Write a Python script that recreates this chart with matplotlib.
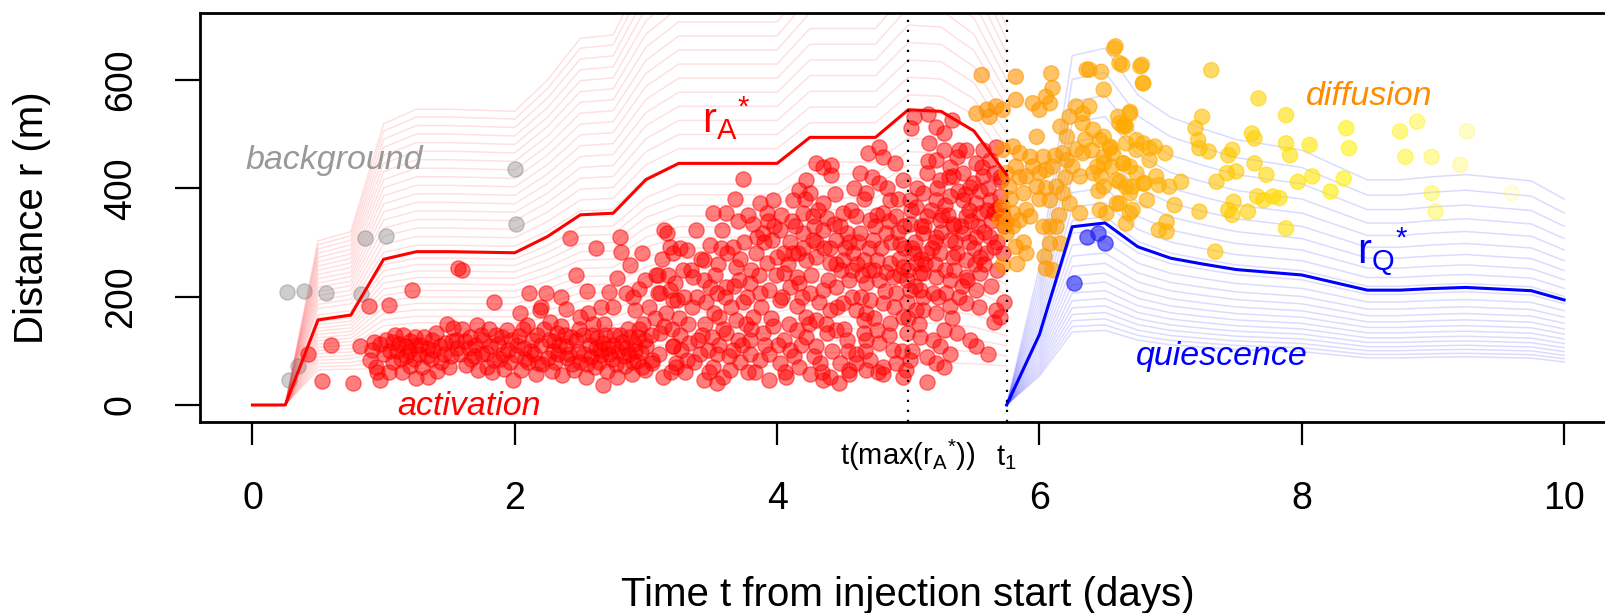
import numpy as np
import matplotlib
matplotlib.use('Agg')
import matplotlib.pyplot as plt

plt.rcParams['font.family'] = ['Liberation Sans', 'DejaVu Sans']
plt.rcParams['mathtext.fontset'] = 'custom'
plt.rcParams['mathtext.rm'] = 'Liberation Sans'
plt.rcParams['mathtext.it'] = 'Liberation Sans:italic'
plt.rcParams['mathtext.default'] = 'regular'

# activation front r_A* (0.25 day grid) and the faint envelope around it
t_act = [0, 0.25, 0.5, 0.75, 1.0, 1.25, 1.5, 1.75, 2.0, 2.25, 2.5, 2.75,
         3.0, 3.25, 3.5, 3.75, 4.0, 4.25, 4.5, 4.75, 5.0, 5.25, 5.5, 5.75]
rA = [0, 0, 157, 166, 269, 283, 283, 282, 281, 311, 351, 354,
      416, 446, 446, 446, 446, 494, 494, 494, 545, 542, 506, 425]
rA_lo = [0, 0, 65, 66, 67, 68, 68, 68, 68, 69, 70, 70,
         72, 73, 73, 73, 73, 75, 75, 75, 78, 78, 76, 72]
rA_hi = [0, 0, 303, 320, 519, 546, 546, 544, 542, 600, 677, 683,
         803, 861, 861, 861, 861, 953, 953, 953, 1052, 1046, 980, 820]
f_act = [0.0, 0.025, 0.05, 0.075, 0.1, 0.125, 0.15, 0.175, 0.2, 0.225, 0.25,
         0.275, 0.3, 0.325, 0.35, 0.375, 0.4, 0.425, 0.475, 0.508, 0.541,
         0.574, 0.607, 0.64, 0.673, 0.706, 0.739, 0.772, 0.805, 0.838, 0.871,
         0.904, 0.937, 0.97, 1.0]

# quiescence front r_Q* and its faint envelope factors
t_qui = [5.75, 6.0, 6.25, 6.5, 6.75, 7.0, 7.25, 7.5, 7.75, 8.0, 8.25, 8.5,
         8.75, 9.0, 9.25, 9.5, 9.75, 10.0]
rQ = [0, 130, 329, 336, 292, 271, 260, 250, 245, 240, 226, 212,
      212, 215, 217, 214, 211, 194]
k_qui = [0.41, 0.44, 0.473, 0.508, 0.545, 0.585, 0.628, 0.675, 0.724, 0.778,
         0.835, 0.897, 0.963, 1.034, 1.11, 1.192, 1.28, 1.374, 1.476, 1.584,
         1.701, 1.827, 1.96]

t_max = 5.0
t_1 = 5.75

bg_pts = [(0.26, 209), (0.39, 211), (0.56, 206), (0.83, 205), (0.86, 308),
          (1.02, 312), (2.00, 435), (2.01, 335), (0.28, 47), (0.35, 72)]

act_pts = [
    (0.42, 95), (0.53, 45), (0.60, 111), (0.77, 41), (0.82, 108), (0.89, 182),
    (1.04, 185), (1.22, 212), (1.57, 252), (1.60, 250), (1.84, 191),
    (0.93, 117), (0.97, 113), (1.02, 120), (1.07, 117), (1.12, 113), (1.17, 108),
    (1.25, 110), (1.34, 105), (0.90, 83), (0.945, 70), (0.97, 46), (1.07, 80),
    (1.17, 90), (1.20, 72), (1.25, 50), (1.27, 95), (1.34, 52), (1.38, 101),
    (1.43, 108), (1.48, 150), (1.53, 142), (1.55, 120), (1.66, 126), (1.71, 148),
    (1.76, 120), (1.81, 108), (1.84, 83), (1.90, 126), (1.94, 138), (1.99, 46),
    (2.04, 169), (2.09, 148), (2.11, 206), (2.19, 175), (2.18, 77), (2.24, 206),
    (2.27, 154), (2.32, 132), (2.39, 178), (2.39, 108), (2.42, 308), (2.47, 240),
    (2.50, 163), (2.56, 169), (2.60, 150), (2.62, 289), (2.65, 101), (2.67, 37),
    (2.72, 209), (2.75, 181), (2.80, 311), (2.81, 283), (2.85, 206), (2.88, 258),
    (2.90, 200), (2.95, 215), (2.97, 280), (2.98, 150), (3.00, 108), (3.05, 83),
    (3.09, 240), (3.11, 206), (3.16, 317), (3.18, 292), (3.21, 193), (3.21, 108),
    (3.23, 77),
    (0.91, 101), (0.95, 60), (1.00, 95), (1.04, 60), (1.10, 99), (1.14, 60),
    (1.15, 130), (1.20, 118), (1.23, 84), (1.29, 70), (1.31, 126), (1.36, 84),
    (1.40, 132), (1.41, 62), (1.46, 95), (1.50, 70), (1.52, 118), (1.58, 95),
    (1.60, 140), (1.63, 73), (1.65, 105), (1.69, 90), (1.72, 64), (1.74, 130),
    (1.78, 96), (1.80, 140), (1.83, 60), (1.87, 112), (1.89, 85), (1.92, 66),
    (1.95, 101), (1.97, 120), (2.01, 92), (2.03, 127), (2.05, 64), (2.07, 105),
    (2.10, 80), (2.13, 120), (2.15, 95), (2.16, 58), (2.20, 110), (2.22, 140),
    (2.25, 86), (2.28, 63), (2.30, 118), (2.33, 95), (2.35, 146), (2.36, 55),
    (2.40, 86), (2.43, 126), (2.45, 64), (2.48, 100), (2.50, 80), (2.52, 130),
    (2.54, 52), (2.57, 110), (2.58, 88), (2.61, 70), (2.63, 124), (2.66, 92),
    (2.68, 150), (2.70, 62), (2.71, 106), (2.74, 85), (2.76, 130), (2.78, 52),
    (2.79, 100), (2.82, 116), (2.84, 72), (2.86, 140), (2.87, 95), (2.89, 58),
    (2.91, 112), (2.93, 82), (2.94, 125), (2.96, 98), (2.99, 65), (2.99, 120),
    (3.08, 240), (3.14, 323), (3.21, 280), (3.26, 289), (3.31, 286), (3.38, 323),
    (3.44, 268), (3.49, 295), (3.09, 206), (3.18, 212), (3.24, 194), (3.28, 249),
    (3.36, 237), (3.44, 231), (3.49, 218), (3.54, 206), (3.11, 132), (3.14, 145),
    (3.21, 108), (3.27, 101), (3.33, 114), (3.41, 95), (3.47, 101), (3.54, 95),
    (3.05, 77), (3.13, 52), (3.23, 71), (3.31, 83), (3.44, 46), (3.54, 40),
    (3.51, 354), (3.61, 354), (3.74, 418), (3.58, 323), (3.66, 292), (3.69, 255),
    (3.61, 218), (3.71, 231), (3.56, 163), (3.61, 132), (3.69, 157), (3.66, 101),
    (3.64, 65), (3.59, 52), (3.51, 71),
    (3.15, 170), (3.25, 160), (3.35, 180), (3.45, 150), (3.40, 120), (3.30, 60),
    (3.20, 140), (3.50, 125),
    (3.87, 372), (3.92, 354), (3.97, 378), (3.82, 335), (3.89, 317), (3.96, 305),
    (4.02, 323), (3.84, 280), (3.92, 262), (4.00, 274), (4.05, 243), (3.79, 225),
    (3.87, 206), (3.94, 212), (4.02, 194), (4.10, 218), (4.15, 237), (4.17, 397),
    (4.25, 391), (4.30, 446), (4.35, 440), (4.41, 443), (4.41, 425), (4.12, 378),
    (4.20, 354), (4.27, 348), (4.35, 372), (4.43, 335), (4.50, 354), (4.20, 317),
    (4.27, 305), (4.35, 323), (4.45, 305), (4.53, 317), (4.12, 280), (4.22, 268),
    (4.30, 274), (4.40, 262), (4.50, 268), (4.58, 280), (4.17, 225), (4.25, 206),
    (4.35, 212), (4.45, 218), (4.55, 231), (4.15, 182), (4.22, 163), (4.30, 157),
    (4.40, 175), (4.50, 188), (4.60, 175), (3.82, 163), (3.89, 132), (3.97, 145),
    (4.05, 120), (3.79, 95), (3.87, 83), (3.94, 95), (4.02, 77), (4.10, 101),
    (4.15, 138), (4.22, 126), (4.30, 108), (4.38, 132), (4.45, 138), (4.53, 120),
    (4.17, 71), (4.25, 58), (4.33, 77), (4.40, 52), (4.48, 77), (4.55, 65),
    (3.94, 46), (4.07, 52), (4.35, 46), (4.22, 415), (3.79, 120), (4.60, 95),
    (4.66, 132), (4.68, 169),
    (3.55, 260), (3.60, 200), (3.65, 180), (3.70, 120), (3.72, 80), (3.75, 300),
    (3.76, 150), (3.78, 60), (3.68, 380), (3.57, 290), (3.80, 250), (3.74, 190),
    (4.69, 465), (4.78, 477), (4.81, 458), (4.90, 446), (4.63, 428), (4.68, 391),
    (4.78, 409), (4.86, 378), (4.96, 415), (5.01, 378), (4.60, 348), (4.71, 341),
    (4.81, 354), (4.91, 348), (5.01, 335), (5.06, 366), (4.63, 317), (4.73, 305),
    (4.83, 317), (4.94, 298), (5.04, 280), (4.66, 268), (4.76, 268), (4.86, 262),
    (4.96, 255), (5.06, 262), (4.68, 225), (4.78, 231), (4.88, 237), (4.99, 231),
    (5.09, 243), (4.71, 194), (4.81, 188), (4.91, 206), (5.01, 212), (5.11, 200),
    (4.66, 157), (4.76, 138), (4.86, 151), (4.96, 163), (5.06, 175), (4.68, 120),
    (4.78, 114), (4.88, 101), (4.99, 132), (5.09, 126), (4.60, 77), (4.71, 83),
    (4.81, 71), (4.91, 77), (5.01, 83), (4.55, 58), (4.68, 65), (4.81, 58),
    (4.96, 52), (5.14, 43), (5.04, 532), (5.15, 538), (5.02, 511), (5.21, 514),
    (5.27, 502), (5.33, 526), (5.16, 483), (5.27, 471), (5.37, 458), (5.44, 471),
    (5.21, 452), (5.32, 440), (5.42, 428), (5.52, 446), (5.57, 471), (5.62, 452),
    (5.67, 477), (5.14, 428), (5.24, 415), (5.34, 422), (5.47, 403), (5.57, 422),
    (5.65, 428), (5.71, 415), (5.11, 391), (5.21, 378), (5.32, 385), (5.42, 378),
    (5.52, 372), (5.62, 378), (5.70, 385), (5.14, 348), (5.24, 341), (5.34, 335),
    (5.44, 348), (5.55, 354), (5.65, 354), (5.72, 348), (5.11, 317), (5.21, 311),
    (5.32, 305), (5.42, 317), (5.52, 311), (5.62, 311), (5.14, 280), (5.24, 280),
    (5.34, 274), (5.44, 268), (5.55, 274), (5.65, 292), (5.11, 243), (5.21, 237),
    (5.32, 231), (5.44, 237), (5.55, 243), (5.09, 212), (5.19, 206), (5.29, 206),
    (5.39, 200), (5.52, 212), (5.11, 175), (5.21, 169), (5.32, 182), (5.44, 188),
    (5.67, 175), (5.70, 163), (5.65, 154), (5.27, 138), (5.37, 132), (5.24, 108),
    (5.32, 95), (5.52, 108), (5.61, 95), (5.27, 71), (5.21, 77), (5.14, 89),
    (4.62, 300), (4.70, 290), (4.75, 330), (4.85, 340), (4.92, 320), (4.97, 290),
    (5.05, 300), (5.12, 330), (5.18, 290), (5.25, 320), (5.30, 350), (5.36, 300),
    (5.40, 330), (5.48, 340), (5.50, 290), (5.58, 320), (5.63, 340), (5.68, 300),
    (5.73, 330), (5.28, 370), (5.38, 395), (5.46, 360), (5.55, 395), (5.60, 360),
    (5.69, 365), (4.57, 250), (4.65, 240), (4.74, 250), (4.83, 245), (4.93, 270),
    (5.00, 250), (5.10, 270), (5.20, 260), (5.35, 250), (5.45, 230), (5.58, 260),
    (4.20, 290), (4.30, 300), (4.40, 290), (4.05, 280), (4.10, 300), (3.98, 330),
    (4.45, 260), (4.55, 300), (4.48, 330), (4.38, 345), (4.28, 330), (4.14, 330),
    (4.03, 350), (3.90, 300), (3.85, 310), (5.00, 160), (5.03, 100), (4.98, 65),
    (1.05, 100), (1.09, 130), (1.13, 85), (1.19, 100), (1.24, 125), (1.28, 110),
    (1.33, 90), (1.37, 120), (1.44, 80), (1.47, 115), (1.51, 90), (1.56, 105),
    (1.62, 118), (1.67, 85), (1.70, 110), (1.75, 95), (1.79, 70), (1.86, 130),
    (1.91, 95), (1.96, 80), (2.02, 110), (2.06, 140), (2.08, 85), (2.12, 100),
    (2.17, 130), (2.21, 75), (2.26, 120), (2.29, 100), (2.31, 80), (2.34, 110),
    (2.38, 130), (2.41, 95), (2.44, 75), (2.47, 120), (2.49, 140), (2.53, 95),
    (2.55, 75), (2.59, 130), (2.62, 105), (2.64, 80), (2.67, 115), (2.69, 130),
    (2.72, 95), (2.75, 110), (2.77, 75), (2.80, 130), (2.83, 90), (2.85, 105),
    (2.88, 125), (2.90, 80), (2.92, 100), (2.95, 140), (2.97, 70),
    (2.20, 180), (2.35, 200), (2.55, 210), (2.66, 180), (2.78, 235), (2.92, 175),
    (2.99, 230),
    (3.02, 180), (3.04, 130), (3.07, 160), (3.10, 95), (3.12, 270), (3.17, 240),
    (3.19, 60), (3.22, 225), (3.26, 130), (3.29, 200), (3.32, 150), (3.34, 250),
    (3.37, 80), (3.39, 200), (3.42, 270), (3.43, 130), (3.46, 190), (3.48, 60),
    (3.52, 170), (3.53, 240), (3.56, 110), (3.59, 140), (3.62, 280), (3.63, 90),
    (3.67, 220), (3.70, 340), (3.72, 270), (3.73, 110), (3.77, 200), (3.78, 350),
    (3.80, 140),
    (3.83, 60), (3.86, 240), (3.88, 180), (3.91, 110), (3.93, 340), (3.95, 160),
    (3.99, 240), (4.01, 110), (4.04, 200), (4.06, 60), (4.08, 260), (4.09, 150),
    (4.11, 340), (4.13, 90), (4.16, 280), (4.18, 110), (4.19, 200), (4.21, 380),
    (4.24, 150), (4.26, 240), (4.28, 90), (4.31, 360), (4.32, 190), (4.34, 60),
    (4.36, 290), (4.37, 150), (4.39, 230), (4.42, 100), (4.44, 390), (4.46, 180),
    (4.47, 40), (4.49, 250), (4.51, 140), (4.52, 290), (4.54, 100), (4.56, 360),
    (4.57, 200), (4.59, 400),
    (4.61, 260), (4.64, 200), (4.66, 380), (4.67, 100), (4.70, 250), (4.72, 420),
    (4.74, 160), (4.76, 350), (4.77, 60), (4.79, 290), (4.82, 210), (4.84, 400),
    (4.85, 130), (4.87, 300), (4.89, 180), (4.92, 380), (4.94, 240), (4.95, 100),
    (4.97, 330), (4.99, 190), (5.02, 360), (5.03, 290), (5.05, 220), (5.07, 400),
    (5.08, 150), (5.10, 330), (5.13, 260), (5.15, 450), (5.17, 360), (5.19, 120),
    (5.20, 300), (5.22, 400), (5.23, 200), (5.26, 350), (5.28, 250), (5.31, 420),
    (5.33, 160), (5.35, 330), (5.37, 280), (5.39, 470), (5.41, 220), (5.43, 390),
    (5.46, 300), (5.47, 120), (5.49, 410), (5.51, 260), (5.53, 330), (5.54, 180),
    (5.56, 440), (5.59, 280), (5.61, 400), (5.63, 220), (5.66, 360), (5.68, 250),
    (5.70, 420), (5.72, 280), (5.73, 190),
]

dif_pts = [
    (5.56, 609), (5.82, 606), (6.09, 612), (6.10, 585), (6.36, 619), (6.38, 619),
    (6.47, 615), (6.49, 582), (6.57, 658), (6.61, 631), (6.77, 625), (6.79, 594),
    (5.82, 563), (5.52, 538), (5.60, 545), (5.67, 551), (5.62, 532), (5.72, 545),
    (5.95, 557), (6.00, 545), (6.05, 569), (6.08, 557), (6.28, 551), (6.33, 538),
    (6.38, 551), (6.33, 520), (6.23, 532), (6.16, 514), (6.21, 495), (6.41, 508),
    (6.46, 489), (6.54, 477), (6.61, 520), (6.66, 514), (6.69, 538), (5.72, 471),
    (5.80, 477), (5.85, 465), (5.93, 458), (5.98, 495), (6.03, 458), (6.10, 440),
    (6.18, 465), (6.21, 452), (5.75, 428), (5.82, 440), (5.90, 422), (6.00, 428),
    (6.05, 434), (6.13, 403), (6.28, 471), (6.33, 465), (6.44, 440), (6.49, 458),
    (6.56, 465), (6.64, 446), (6.74, 471), (5.77, 403), (5.88, 391), (5.98, 403),
    (6.08, 378), (6.18, 391), (6.23, 372), (6.31, 422), (6.41, 428), (6.49, 403),
    (6.59, 415), (6.66, 403), (6.74, 428), (6.79, 409), (5.72, 366), (5.80, 354),
    (5.85, 341), (5.93, 348), (6.03, 329), (6.08, 329), (6.13, 329), (6.31, 354),
    (6.46, 360), (6.59, 372), (6.69, 354), (5.75, 317), (5.82, 292), (5.90, 280),
    (6.08, 298), (6.16, 298), (5.72, 258), (6.04, 274), (6.05, 252), (6.10, 249),
    (5.70, 341), (5.75, 335),
    (5.78, 380), (5.85, 420), (5.90, 360), (5.95, 440), (6.00, 380), (6.05, 400),
    (6.12, 460), (6.20, 420), (6.25, 440), (6.35, 490), (6.40, 470), (6.45, 395),
    (6.55, 440), (5.80, 330), (5.88, 300), (5.83, 260), (6.15, 350),
    (6.58, 662), (6.63, 628), (6.78, 628), (6.79, 594), (6.60, 532), (6.65, 517),
    (6.69, 541), (6.64, 514), (6.49, 495), (6.54, 474), (6.66, 483), (6.74, 489),
    (6.79, 483), (6.84, 474), (6.88, 477), (6.96, 465), (6.84, 452), (6.49, 446),
    (6.64, 446), (6.69, 440), (6.47, 422), (6.61, 412), (6.71, 403), (6.80, 409),
    (6.89, 422), (6.91, 406), (6.99, 403), (7.08, 412), (6.69, 391), (6.61, 372),
    (6.71, 360), (6.82, 378), (7.03, 369), (6.51, 354), (6.66, 335), (6.97, 338),
    (6.91, 323), (6.97, 320), (7.31, 618), (7.24, 532), (7.19, 511), (7.21, 489),
    (7.22, 474), (7.29, 468), (7.47, 471), (7.44, 461), (7.50, 431), (7.43, 428),
    (7.35, 412), (7.64, 446), (7.73, 425), (7.62, 501), (7.64, 492), (7.67, 566),
    (7.88, 535), (7.88, 483), (7.91, 461), (8.06, 480), (8.34, 511), (8.36, 474),
    (8.32, 418), (7.97, 412), (8.08, 422), (8.22, 394), (7.66, 385), (7.71, 378),
    (7.78, 385), (7.83, 382), (7.48, 375), (7.44, 360), (7.47, 351), (7.59, 357),
    (7.22, 357), (7.88, 326), (7.34, 283), (8.75, 505), (8.88, 523), (8.79, 458),
    (8.99, 458), (9.26, 505), (9.21, 443), (8.99, 391), (9.02, 357), (9.60, 391),
]

qui_pts = [(6.36, 311), (6.45, 317), (6.50, 299), (6.26, 225)]

fig = plt.figure(figsize=(16.05, 6.13), dpi=100)
ax = fig.add_axes([0.1246, 0.3121, 0.8826, 0.6662])
ax.set_xlim(-0.4, 10.4)
ax.set_ylim(-30.8, 723)

# faint envelopes
lo = np.array(rA_lo, float)
hi = np.array(rA_hi, float)
for f in f_act:
    ax.plot(t_act, lo + f * (hi - lo), color=(1, 0, 0, 0.12), lw=1.1, zorder=1)
for k in k_qui:
    ax.plot(t_qui, k * np.array(rQ, float), color=(0, 0, 1, 0.14), lw=1.1, zorder=1)

# points
bt, br = np.array(bg_pts).T
ax.scatter(bt, br, s=120, facecolor=(0.45, 0.45, 0.45, 0.35),
           edgecolor=(0.45, 0.45, 0.45, 0.35), lw=1, zorder=2)
at, ar = np.array(act_pts).T
ax.scatter(at, ar, s=120, facecolor=(1, 0, 0, 0.5),
           edgecolor=(1, 0, 0, 0.5), lw=1, zorder=2)
dt, dr = np.array(dif_pts).T
g = np.interp(dt, [5.5, 7.0, 8.3], [0.55, 0.7, 0.95])
alpha = np.interp(dt, [5.5, 8.3, 8.8, 9.1, 9.3, 9.7], [0.6, 0.6, 0.45, 0.3, 0.2, 0.1])
cols = np.column_stack([np.ones_like(dt), g, np.zeros_like(dt), alpha])
ax.scatter(dt, dr, s=120, facecolor=cols, edgecolor=cols, lw=1, zorder=3)
qt, qr = np.array(qui_pts).T
ax.scatter(qt, qr, s=120, facecolor=(0.1, 0.1, 0.95, 0.6),
           edgecolor=(0.1, 0.1, 0.95, 0.6), lw=1, zorder=3)

# fronts
ax.plot(t_act, rA, color='red', lw=2.2, zorder=4)
ax.plot(t_qui, rQ, color='blue', lw=2.2, zorder=4)

ax.axvline(t_max, color='black', ls=(0, (1, 3.5)), lw=1.6, zorder=5)
ax.axvline(t_1, color='black', ls=(0, (1, 3.5)), lw=1.6, zorder=5)

# labels in the plot
ax.text(0.62, 452, 'background', color='#999999', style='italic',
        fontsize=24.5, ha='center', va='center')
ax.text(1.65, -18.5, 'activation', color='red', style='italic',
        fontsize=24.5, ha='center', va='baseline')
ax.text(8.51, 554, 'diffusion', color='darkorange', style='italic',
        fontsize=24.5, ha='center', va='baseline')
ax.text(7.39, 74, 'quiescence', color='blue', style='italic',
        fontsize=24.5, ha='center', va='baseline')
ax.text(3.43, 502, r'${r_A}^{*}$', color='red', fontsize=30, ha='left', va='baseline')
ax.text(8.42, 262, r'${r_Q}^{*}$', color='blue', fontsize=30, ha='left', va='baseline')

trans = ax.get_xaxis_transform()
ax.text(t_max, -0.106, r'$t(max({r_A}^{*}))$', transform=trans, ha='center',
        va='baseline', fontsize=21, clip_on=False)
ax.text(t_1, -0.106, r'$t_1$', transform=trans, ha='center',
        va='baseline', fontsize=21, clip_on=False)

# axes styling
for sp in ax.spines.values():
    sp.set_linewidth(2)
ax.set_xticks([0, 2, 4, 6, 8, 10])
ax.set_yticks([0, 200, 400, 600])
ax.tick_params(axis='x', length=16.5, width=1.6, pad=26, labelsize=27)
ax.tick_params(axis='y', length=18, width=1.6, pad=26, labelsize=27)
for lab in ax.get_yticklabels():
    lab.set_rotation(90)
    lab.set_va('center')

fig.text(908 / 1605, 1 - 595 / 613, 'Time t from injection start (days)',
         ha='center', va='center', fontsize=29)
fig.text(32 / 1605, 1 - 217.5 / 613, 'Distance r (m)', rotation=90,
         ha='center', va='center', fontsize=29)

fig.savefig('out.png', dpi=100)
